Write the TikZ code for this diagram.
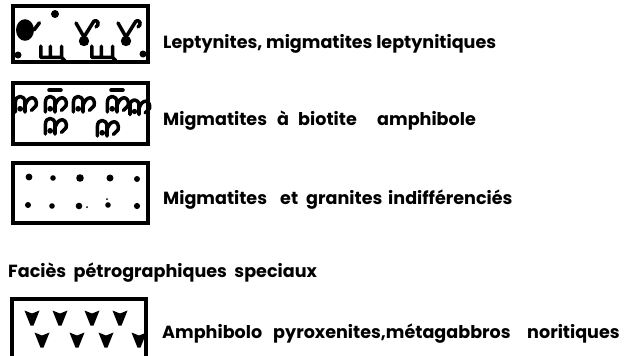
\documentclass[tikz,border=0pt]{standalone}
\usepackage{fontspec}
\setmainfont{Poppins}
\begin{document}
\begin{tikzpicture}[x=0.03cm,y=-0.03cm,
  legbox/.style={draw=black,line width=2.8pt},
  lab/.style={anchor=base west,inner sep=0pt,font=\fontsize{15}{17}\selectfont\bfseries},
  glyph/.style={draw=black,line width=3pt,line cap=round,line join=round},
  curlv/.pic={\draw[glyph] (-5,-4) -- (-1,3) -- (4,-5) (4,-5) .. controls (6,-6) and (7,-3) .. (5,-2); \fill (-1,5) circle (2.6);},
  wsh/.pic={\draw[glyph] (-7,-3) -- (-7,4) -- (6,4) -- (6,-3) (-1,-3) -- (-1,4) (6,4) -- (8,6);},
  blob/.pic={\fill (0,0) ellipse (5 and 6); \draw[glyph] (5,0) -- (8,-4);},
  hook/.pic={\draw[glyph] (-6,5) -- (-6,-1) .. controls (-6,-6) and (0,-6) .. (0,-1) -- (0,5) (0,1) .. controls (2,-6) and (8,-5) .. (7,1) -- (4,4); \fill (-3,3) circle (1.8);},
  vee/.pic={\fill (-5,-5) -- (0,-3) -- (5,-5) -- (1,5) -- (-1,5) -- cycle;}
]
\useasboundingbox (0,0) rectangle (633,355);
\clip (0,0) rectangle (633,355);

% box 1
\draw[legbox] (13,6) rectangle (148,62);
\pic[scale=1.8] at (25,30) {blob};
\fill (55,14) circle (4);
\pic[scale=2] at (86,31) {curlv};
\pic[scale=2] at (128,31) {curlv};
\pic[scale=1.6] at (52,51) {wsh};
\pic[scale=1.6] at (103,51) {wsh};
\fill (18,55) circle (3.5);
\fill (143,54) circle (3.5);
\node[lab] (t1) at (163,48) {Leptynites, migmatites leptynitiques};

% box 2
\draw[legbox] (13,83) rectangle (148,144);
\pic[scale=1.6] at (25,104) {hook};
\pic[scale=1.6] at (55,104) {hook};
\pic[scale=1.6] at (83,104) {hook};
\pic[scale=1.6] at (117,104) {hook};
\pic[scale=1.5] at (139,107) {hook};
\pic[scale=1.6] at (55,126) {hook};
\pic[scale=1.6] at (107,128) {hook};
\draw[glyph] (49,90) -- (61,90);
\draw[glyph] (111,90) -- (123,90);
\node[lab] (t2a) at (163,125) {Migmatites};
\node[lab] (t2b) at (277,125) {à};
\node[lab] (t2c) at (298,125) {biotite};
\node[lab] (t2d) at (377,125) {amphibole};

% box 3
\draw[legbox] (13,163) rectangle (148,223);
\foreach \x/\y/\r in {29/177/3.4,53/178/2.8,80/178/3.8,110/178/3.5,137/179/3,
                      28/205/3,52/206/2.8,79/206/3.3,108/205/2.8,137/206/3.1}
  \fill (\x,\y) circle (\r);
\fill (87,207) circle (1);
\fill (107,199) circle (1);
\node[lab] (t3a) at (163,204) {Migmatites};
\node[lab] (t3b) at (280,204) {et};
\node[lab] (t3c) at (306,204) {granites};
\node[lab] (t3d) at (388,204) {indifférenciés};

% heading
\node[lab] (h) at (8,277) {Faciès\ \ pétrographiques\ \ speciaux};

% box 4
\draw[legbox] (12,299) rectangle (146,362);
\foreach \x in {32,60,92,120} \pic[scale=1.5] at (\x,318) {vee};
\foreach \x in {42,77,106,139} \pic[scale=1.5] at (\x,340) {vee};
\node[lab] (t5a) at (162,338) {Amphibolo};
\node[lab] (t5b) at (273,338) {pyroxenites,métagabbros};
\node[lab] (t5c) at (527,338) {noritiques};
\end{tikzpicture}
\end{document}
